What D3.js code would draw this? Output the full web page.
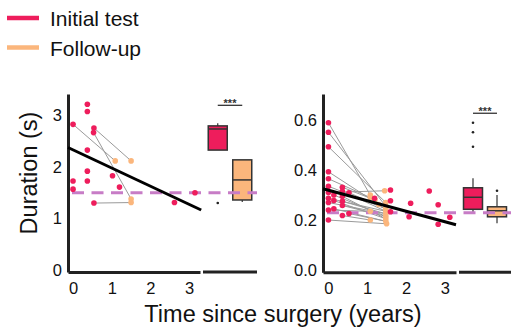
<!DOCTYPE html>
<html><head><meta charset="utf-8">
<script src="https://cdn.jsdelivr.net/npm/d3@7"></script>
<style>
body{margin:0;background:#fff;}
svg{display:block;font-family:"Liberation Sans",Arial,Helvetica,sans-serif;}
</style></head>
<body>
<svg id="c" width="511" height="331"></svg>
<script>
// ---------- DATA ----------
const seriesNames = ["Initial test", "Follow-up"];
const seriesColors = ["#ee1d5c", "#fbb67c"];

// Left panel (Duration, s)
const leftInitial = [[0,2.83],[0,1.73],[0,1.57],[0.37,3.22],[0.37,3.08],[0.37,2.33],[0.37,1.92],[0.37,1.73],
  [0.54,2.76],[0.53,2.67],[0.54,1.30],[1.02,1.83],[1.20,1.61],[2.62,1.31],[3.15,1.50]];
const leftFollow = [[1.09,2.12],[1.50,2.12],[1.50,1.38],[1.50,1.31]];
const leftPairs = [[0,0],[8,1],[9,2],[10,3]];
const leftRegression = [[-0.13,2.38],[3.31,1.165]];
const leftReference = 1.50;
const leftYTicks = [0,1,2,3];
const leftBoxes = [
  {name:"Initial test", lo:2.33, q1:2.33, med:2.74, q3:2.80, hi:2.85, out:[1.30]},
  {name:"Follow-up", lo:1.32, q1:1.36, med:1.75, q3:2.14, hi:2.14, out:[]}
];
const leftSig = {label:"***", y:3.20};

// Right panel
const rightInitial = [[0,0.589],[0,0.551],[0,0.493],[0,0.393],[0,0.365],[0,0.335],[0,0.310],[0,0.287],
  [0,0.270],[0,0.240],[0,0.200],[0.14,0.300],[0.14,0.278],[0.14,0.245],[0.36,0.331],[0.36,0.315],
  [0.36,0.295],[0.36,0.275],[0.36,0.258],[0.36,0.218],[0.53,0.309],[0.53,0.226],[1.19,0.287],
  [1.60,0.320],[1.60,0.277],[1.60,0.233],[2.12,0.267],[2.08,0.213],[2.60,0.316],[2.83,0.261],
  [2.83,0.183],[3.13,0.211]];
const rightFollow = [[1.08,0.300],[1.08,0.290],[1.08,0.200],[1.08,0.235],[1.45,0.317],[1.48,0.270],
  [1.48,0.255],[1.48,0.245],[1.48,0.235],[1.48,0.225],[1.48,0.215],[1.48,0.205],[1.48,0.195],
  [1.50,0.185],[1.30,0.262],[1.20,0.280]];
const rightPairs = [[0,0],[1,6],[2,5],[3,14],[4,1],[5,7],[6,4],[7,8],[8,9],[9,3],[10,13],[11,10],
  [12,11],[13,12],[14,15],[15,8],[17,9],[18,10],[19,2],[20,7],[16,11],[21,12]];
const rightRegression = [[-0.14,0.325],[3.29,0.181]];
const rightReference = 0.229;
const rightYTicks = [0,0.2,0.4,0.6];
const rightBoxes = [
  {name:"Initial test", lo:0.230, q1:0.243, med:0.291, q3:0.329, hi:0.367, out:[0.589,0.551,0.493]},
  {name:"Follow-up", lo:0.187, q1:0.213, med:0.237, q3:0.253, hi:0.300, out:[0.317]}
];
const rightSig = {label:"***", y:0.627};

const xTicks = [0,1,2,3];
const xTitle = "Time since surgery (years)";
const yTitle = "Duration (s)";

// ---------- DRAW ----------
const svg = d3.select("#c");
const refColor = "#c77cc6";
const axisColor = "#222";

function panel(cfg){
  const g = svg.append("g");
  const x = d3.scaleLinear().domain(cfg.xDomain).range(cfg.xRange);
  const y = d3.scaleLinear().domain(cfg.yDomain).range(cfg.yRange);
  const xb = d3.scalePoint().domain(seriesNames).range(cfg.boxRange).padding(cfg.boxPad);
  const bw = 19;

  // axes
  const ya = g.append("g").attr("transform", `translate(${cfg.xRange[0]},0)`)
    .call(d3.axisLeft(y).tickValues(cfg.yTicks).tickSize(0).tickPadding(6).tickSizeOuter(0).tickFormat(cfg.yFmt));
  const xa = g.append("g").attr("transform", `translate(0,${cfg.yRange[0]})`)
    .call(d3.axisBottom(x).tickValues(xTicks).tickSize(0).tickPadding(10).tickSizeOuter(0).tickFormat(d3.format("d")));
  [ya,xa].forEach(a=>{
    a.select(".domain").attr("stroke", axisColor).attr("stroke-width", 3);
    a.selectAll("text").attr("font-size", 16.5).attr("fill","#111").attr("font-family","Liberation Sans, Arial, sans-serif");
  });
  // box axis segment
  g.append("line").attr("x1", cfg.boxRange[0]).attr("x2", cfg.boxAxisEnd)
    .attr("y1", cfg.yRange[0]).attr("y2", cfg.yRange[0]).attr("stroke", axisColor).attr("stroke-width", 3);

  // boxes
  cfg.boxes.forEach((b,i)=>{
    const cx = xb(b.name);
    const col = seriesColors[seriesNames.indexOf(b.name)];
    g.append("line").attr("x1",cx).attr("x2",cx).attr("y1",y(b.hi)).attr("y2",y(b.q3)).attr("stroke","#333").attr("stroke-width",1.2);
    g.append("line").attr("x1",cx).attr("x2",cx).attr("y1",y(b.q1)).attr("y2",y(b.lo)).attr("stroke","#333").attr("stroke-width",1.2);
    g.append("rect").attr("x",cx-bw/2).attr("width",bw).attr("y",y(b.q3)).attr("height",y(b.q1)-y(b.q3))
      .attr("fill",col).attr("stroke","#333").attr("stroke-width",1.5);
    g.append("line").attr("x1",cx-bw/2).attr("x2",cx+bw/2).attr("y1",y(b.med)).attr("y2",y(b.med)).attr("stroke","#333").attr("stroke-width",1.5);
    b.out.forEach(o=>g.append("circle").attr("cx",cx).attr("cy",y(o)).attr("r",1.3).attr("fill","#222"));
  });
  // significance
  const s0 = xb(seriesNames[0]), s1 = xb(seriesNames[1]);
  g.append("line").attr("x1",s0).attr("x2",s1).attr("y1",y(cfg.sig.y)).attr("y2",y(cfg.sig.y)).attr("stroke","#333").attr("stroke-width",1.3);
  g.append("text").attr("x",(s0+s1)/2).attr("y",y(cfg.sig.y)+1.5).attr("text-anchor","middle")
    .attr("font-size",11).attr("font-weight","bold").attr("fill","#333").text(cfg.sig.label);

  // pair lines
  g.selectAll(".pair").data(cfg.pairs).join("line")
    .attr("x1",d=>x(cfg.init[d[0]][0])).attr("y1",d=>y(cfg.init[d[0]][1]))
    .attr("x2",d=>x(cfg.follow[d[1]][0])).attr("y2",d=>y(cfg.follow[d[1]][1]))
    .attr("stroke","#9a9a9a").attr("stroke-width",1);

  // reference dashed line
  g.append("line").attr("x1",cfg.xRange[0]+1).attr("x2",cfg.boxAxisEnd)
    .attr("y1",y(cfg.ref)).attr("y2",y(cfg.ref)).attr("stroke",refColor).attr("stroke-width",3)
    .attr("stroke-dasharray","12,7.5").attr("stroke-dashoffset",-3);

  // points
  g.selectAll(".fp").data(cfg.follow).join("circle").attr("cx",d=>x(d[0])).attr("cy",d=>y(d[1])).attr("r",2.8).attr("fill",seriesColors[1]);
  g.selectAll(".ip").data(cfg.init).join("circle").attr("cx",d=>x(d[0])).attr("cy",d=>y(d[1])).attr("r",2.8).attr("fill",seriesColors[0]);

  // regression
  g.append("line").attr("x1",x(cfg.reg[0][0])).attr("y1",y(cfg.reg[0][1]))
    .attr("x2",x(cfg.reg[1][0])).attr("y2",y(cfg.reg[1][1])).attr("stroke","#000").attr("stroke-width",3);
}

panel({xDomain:[-0.13,3.28], xRange:[68,200], yDomain:[-0.04,3.42], yRange:[272,94],
  boxRange:[203,257], boxPad:0.602, boxAxisEnd:257, yTicks:leftYTicks, yFmt:d3.format("d"),
  boxes:leftBoxes, sig:leftSig, init:leftInitial, follow:leftFollow, pairs:leftPairs,
  ref:leftReference, reg:leftRegression});
panel({xDomain:[-0.14,3.29], xRange:[323,456], yDomain:[-0.009,0.704], yRange:[272.3,94],
  boxRange:[459,511], boxPad:0.583, boxAxisEnd:511, yTicks:rightYTicks, yFmt:d3.format(".1f"),
  boxes:rightBoxes, sig:rightSig, init:rightInitial, follow:rightFollow, pairs:rightPairs,
  ref:rightReference, reg:rightRegression});

// titles
svg.append("text").attr("x",283).attr("y",322).attr("text-anchor","middle").attr("font-size",23.5).attr("fill","#111").text(xTitle);
svg.append("text").attr("transform","translate(37,173) rotate(-90)").attr("text-anchor","middle").attr("font-size",23.5).attr("fill","#111").text(yTitle);

// legend
const leg = svg.append("g");
seriesNames.forEach((n,i)=>{
  const yy = 18 + i*29.5;
  leg.append("line").attr("x1",7).attr("x2",39).attr("y1",yy).attr("y2",yy).attr("stroke",seriesColors[i]).attr("stroke-width",4.5);
  leg.append("text").attr("x",50).attr("y",yy+8).attr("font-size",21).attr("fill","#111").text(n);
});
</script>
</body></html>
